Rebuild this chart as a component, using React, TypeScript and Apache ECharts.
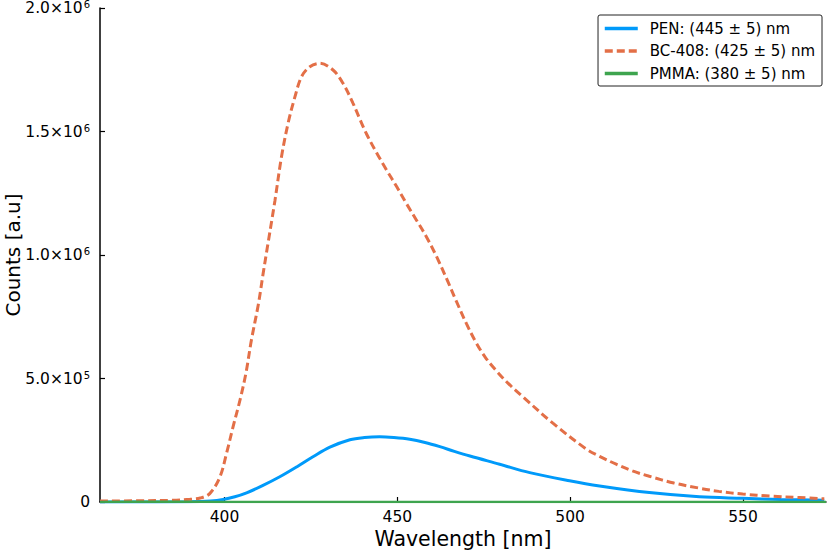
import React, { useEffect, useRef } from "react";
import * as echarts from "echarts";

// PEN emission spectrum: [wavelength nm, counts]
const penWavelengths = [364, 390, 396, 399.6, 403, 406.4, 411, 416, 421, 425.6, 430.5, 436.3, 440.5, 444.9, 449, 453.6, 458, 462.3, 466.5, 471, 479.6, 488.3, 499.8, 508.5, 522.9, 537.4, 549.9, 561, 573.5];
const penCounts = [0, 1000, 4000, 10000, 21000, 37000, 66000, 102000, 143000, 183000, 222000, 252000, 261000, 264000, 261000, 254000, 241000, 224000, 205000, 186000, 153000, 119000, 86000, 65000, 38000, 21000, 15000, 10000, 7000];

// BC-408 emission spectrum
const bcWavelengths = [364, 375, 385, 390, 393, 395.8, 398.7, 400.6, 402.5, 404.5, 406.2, 407.8, 409.8, 411.2, 412.4, 414.6, 416.5, 418.4, 420.4, 422.3, 424.7, 427.6, 431.4, 434.3, 437.2, 439.1, 441.1, 444, 446.9, 449.8, 452.6, 455.5, 458.4, 461.3, 464.7, 467.1, 470, 472.8, 475.5, 478.6, 482, 486.3, 495, 504.6, 508.5, 513.3, 518, 522.9, 530, 537.4, 543, 549.9, 558, 566.3, 573.5];
const bcCounts = [4000, 5000, 7000, 11000, 16000, 35000, 102000, 197000, 305000, 413000, 521000, 656000, 800000, 926000, 1030000, 1220000, 1398000, 1533000, 1641000, 1722000, 1762000, 1776000, 1749000, 1695000, 1614000, 1552000, 1490000, 1414000, 1344000, 1277000, 1209000, 1142000, 1074000, 995000, 890000, 812000, 722000, 645000, 585000, 532000, 481000, 426000, 319000, 215000, 185000, 153000, 126000, 104000, 77000, 56000, 43000, 32000, 24000, 18000, 13000];

// PMMA emission spectrum (barely above zero at this scale)
const pmmaWavelengths = [364, 380, 400, 450, 500, 550, 574];
const pmmaCounts = [500, 1000, 500, 200, 100, 50, 0];

const seriesNames = ["PEN: (445 ± 5) nm", "BC-408: (425 ± 5) nm", "PMMA: (380 ± 5) nm"];

const xTicks = [400, 450, 500, 550];
const yTicks = [0, 500000, 1000000, 1500000, 2000000];
const yTickLabels = ["0", "5.0×10{sup|5}", "1.0×10{sup|6}", "1.5×10{sup|6}", "2.0×10{sup|6}"];

const zip = (xs: number[], ys: number[]) => xs.map((x, i) => [x, ys[i]]);

export default function App() {
  const ref = useRef<HTMLDivElement>(null);
  useEffect(() => {
    if (!ref.current) return;
    const chart = echarts.init(ref.current, undefined, { renderer: "svg" });
    const font = "DejaVu Sans";
    const lineSeries = (name: string, xs: number[], ys: number[], color: string, width: number, type: any, z: number) => ({
      name,
      type: "line",
      data: zip(xs, ys),
      symbol: "none",
      smooth: 0.35,
      lineStyle: { color, width, type },
      itemStyle: { color },
      z,
    });
    chart.setOption({
      animation: false,
      backgroundColor: "#ffffff",
      textStyle: { fontFamily: font },
      grid: { left: 100, right: 4, top: 8, bottom: 52, containLabel: false, outerBoundsMode: "none" },
      legend: {
        orient: "vertical",
        right: 8,
        top: 15,
        padding: [6, 7, 5, 5],
        itemWidth: 33,
        itemHeight: 14,
        itemGap: 7.5,
        borderColor: "#222222",
        borderWidth: 1,
        borderRadius: 2,
        backgroundColor: "#ffffff",
        itemStyle: { opacity: 0 },
        lineStyle: { width: 3.5 },
        textStyle: { fontFamily: font, fontSize: 15, color: "#000", padding: [0, 0, 0, 7] },
        data: seriesNames,
      },
      xAxis: {
        type: "value",
        min: 364,
        max: 574,
        name: "Wavelength [nm]",
        nameLocation: "middle",
        nameGap: 26,
        nameMoveOverlap: false,
        nameTextStyle: { fontFamily: font, fontSize: 20.5, color: "#000" },
        axisLine: { show: true, onZero: false, lineStyle: { color: "#000", width: 1.5 } },
        axisTick: { show: true, inside: true, length: 5, customValues: xTicks, lineStyle: { color: "#000", width: 1.2 } },
        axisLabel: { customValues: xTicks, fontFamily: font, fontSize: 15.5, color: "#000", margin: 7 },
        splitLine: { show: false },
      },
      yAxis: {
        type: "value",
        min: 0,
        max: 2000000,
        interval: 500000,
        name: "Counts [a.u]",
        nameLocation: "middle",
        nameGap: 77,
        nameMoveOverlap: false,
        nameTextStyle: { fontFamily: font, fontSize: 20, color: "#000" },
        axisLine: { show: true, lineStyle: { color: "#000", width: 1.5 } },
        axisTick: { show: true, inside: true, length: 5, lineStyle: { color: "#000", width: 1.2 } },
        axisLabel: {
          fontFamily: font,
          fontSize: 15.5,
          lineHeight: 17,
          color: "#000",
          margin: 10,
          showMaxLabel: true,
          formatter: (v: number) => {
            const i = yTicks.indexOf(v);
            return i >= 0 ? yTickLabels[i] : "";
          },
          rich: {
            sup: { fontFamily: font, fontSize: 10, lineHeight: 17, verticalAlign: "top", padding: [0, 0, 6, 1], color: "#000" },
          },
        },
        splitLine: { show: false },
      },
      series: [
        lineSeries(seriesNames[0], penWavelengths, penCounts, "#009AFA", 3, "solid", 3),
        lineSeries(seriesNames[1], bcWavelengths, bcCounts, "#E36F47", 3, [8, 4], 4),
        lineSeries(seriesNames[2], pmmaWavelengths, pmmaCounts, "#3EA44E", 2.5, "solid", 5),
      ],
    });
    return () => chart.dispose();
  }, []);
  return (
    <div
      ref={ref}
      style={{ position: "fixed", left: 0, top: 0, width: 830, height: 554 }}
    />
  );
}
